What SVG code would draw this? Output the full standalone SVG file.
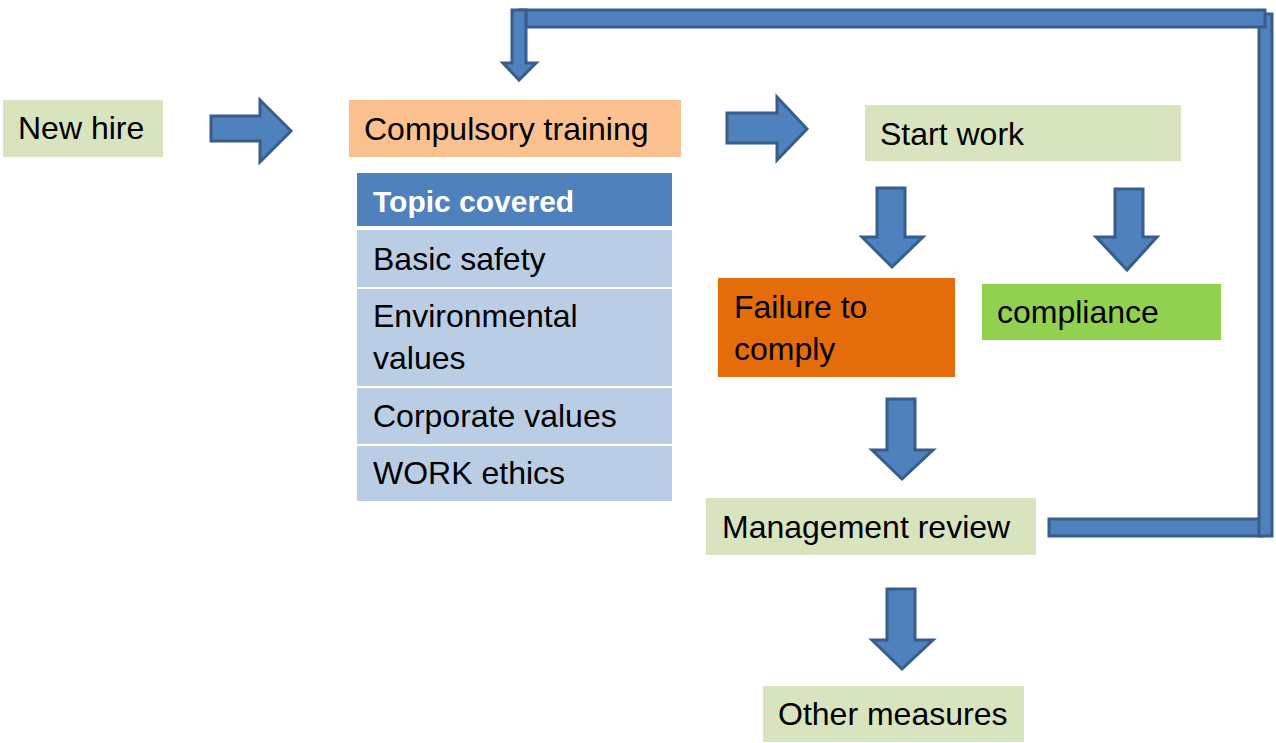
<svg xmlns="http://www.w3.org/2000/svg" width="1276" height="743" viewBox="0 0 1276 743">
<style>
.t{font-family:"Liberation Sans",Arial,sans-serif;font-size:32px;fill:#000}
.b{font-family:"Liberation Sans",Arial,sans-serif;font-size:30px;font-weight:bold;fill:#fff}
.arr{fill:#4f81bd;stroke:#385d8a;stroke-width:3;stroke-linejoin:miter}
.g{fill:#d7e4bd}
.row{fill:#b9cde5}
</style>
<rect width="1276" height="743" fill="#fff"/>
<g id="connectors">
<polygon class="arr" points="211,116 260,116 260,100 291,131 260,162 260,141 211,141"/>
<polygon class="arr" points="727,113 777,113 777,97 807,129 777,160 777,143 727,143"/>
<polygon class="arr" points="877,188 905,188 905,237 923,237 892,267 862,237 877,237"/>
<polygon class="arr" points="1115,189 1143,189 1143,237 1157,237 1127,270 1096,237 1115,237"/>
<polygon class="arr" points="887,399 915,399 915,450 933,450 902,479 872,450 887,450"/>
<polygon class="arr" points="887,589 915,589 915,640 933,640 902,669 872,640 887,640"/>
<g id="feedback">
<rect class="arr" x="1049" y="519" width="214" height="17"/>
<rect class="arr" x="1259" y="14" width="13" height="522"/>
<rect class="arr" x="520" y="10" width="745" height="17"/>
<polygon class="arr" points="512,10 526,10 526,63 536,63 519,80 503,63 512,63"/>
</g>
</g>
<g id="new-hire">
<rect class="g" x="3" y="100" width="160" height="57"/>
<text class="t" x="18" y="139">New hire</text>
</g>
<g id="compulsory-training">
<rect x="349" y="100" width="332" height="57" fill="#fac090"/>
<text class="t" x="364" y="140">Compulsory training</text>
</g>
<g id="topics-table">
<rect x="357" y="173" width="315" height="53" fill="#4f81bd"/>
<text class="b" x="373" y="212">Topic covered</text>
<rect class="row" x="357" y="230" width="315" height="57"/>
<text class="t" x="373" y="270">Basic safety</text>
<rect class="row" x="357" y="289" width="315" height="97"/>
<text class="t" x="373" y="327">Environmental</text>
<text class="t" x="373" y="369">values</text>
<rect class="row" x="357" y="388" width="315" height="56"/>
<text class="t" x="373" y="427">Corporate values</text>
<rect class="row" x="357" y="446" width="315" height="55"/>
<text class="t" x="373" y="484">WORK ethics</text>
</g>
<g id="start-work">
<rect class="g" x="865" y="105" width="316" height="56"/>
<text class="t" x="880" y="145">Start work</text>
</g>
<g id="failure">
<rect x="718" y="278" width="237" height="99" fill="#e46c0a"/>
<text class="t" x="734" y="318">Failure to</text>
<text class="t" x="734" y="360">comply</text>
</g>
<g id="compliance">
<rect x="982" y="284" width="239" height="56" fill="#92d050"/>
<text class="t" x="997" y="323">compliance</text>
</g>
<g id="management-review">
<rect class="g" x="706" y="498" width="330" height="57"/>
<text class="t" x="722" y="538">Management review</text>
</g>
<g id="other-measures">
<rect class="g" x="763" y="686" width="261" height="56"/>
<text class="t" x="778" y="725">Other measures</text>
</g>
</svg>
